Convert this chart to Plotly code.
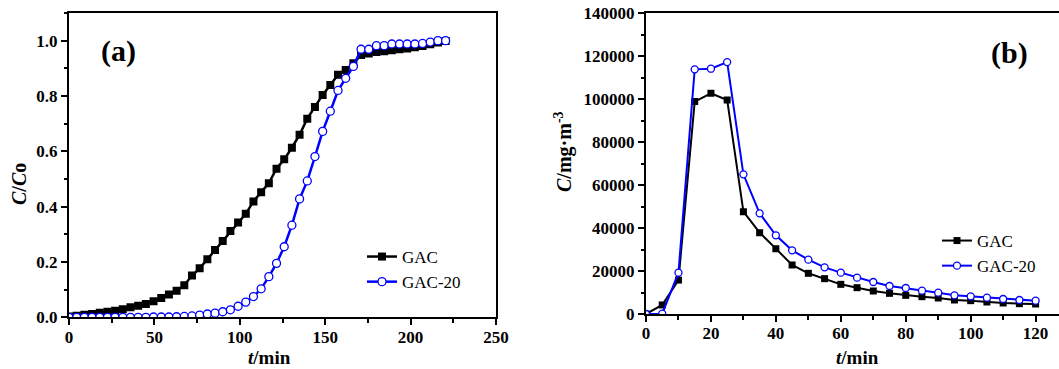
import plotly.graph_objects as go

# ---------------- data: panel (a) breakthrough curves ----------------
t_a = [0, 4.5, 9, 13.5, 18, 22.5, 27, 31.5, 36, 40.5, 45, 49.5, 54, 58.5, 63, 67.5,
       72, 76.5, 81, 85.5, 90, 94.5, 99, 103.5, 108, 112.5, 117, 121.5, 126, 130.5,
       135, 139.5, 144, 148.5, 153, 157.5, 162, 166.5, 171, 175.5, 180, 184.5, 189,
       193.5, 198, 202.5, 207, 211.5, 216, 220.5]
gac_a = [0.003, 0.006, 0.009, 0.012, 0.016, 0.020, 0.024, 0.029, 0.036, 0.042,
         0.048, 0.058, 0.070, 0.082, 0.096, 0.116, 0.151, 0.177, 0.210, 0.243,
         0.276, 0.312, 0.343, 0.374, 0.419, 0.452, 0.485, 0.537, 0.571, 0.613,
         0.660, 0.718, 0.760, 0.804, 0.840, 0.877, 0.894, 0.918, 0.948, 0.954,
         0.959, 0.962, 0.965, 0.969, 0.972, 0.976, 0.981, 0.987, 0.993, 0.999]
gac20_a = [0.0, 0.0, 0.0, 0.0, 0.0, 0.0, 0.0, 0.0, 0.0, 0.0,
           0.0, 0.001, 0.001, 0.001, 0.002, 0.003, 0.005, 0.008, 0.012, 0.015,
           0.020, 0.027, 0.040, 0.055, 0.075, 0.103, 0.147, 0.195, 0.255, 0.333,
           0.428, 0.493, 0.581, 0.672, 0.745, 0.820, 0.864, 0.907, 0.969, 0.969,
           0.982, 0.982, 0.988, 0.988, 0.988, 0.988, 0.990, 0.995, 1.0, 1.0]

# ---------------- data: panel (b) concentration ----------------
t_b = [0, 5, 10, 15, 20, 25, 30, 35, 40, 45, 50, 55, 60, 65, 70, 75, 80, 85, 90,
       95, 100, 105, 110, 115, 120]
gac_b = [0, 4200, 15800, 98900, 102750, 99650, 47650, 37870, 30420, 22820, 18940,
         16450, 13810, 12260, 10710, 9620, 8690, 8070, 7450, 6520, 6210, 5590,
         5120, 4810, 4660]
gac20_b = [0, 150, 19250, 113900, 114200, 117300, 65030, 46870, 36630, 29650, 25300,
           21730, 19250, 16920, 14900, 13040, 12110, 10870, 9930, 8690, 8230, 7610,
           6980, 6520, 6210]

names = ["GAC", "GAC-20"]

FONT = "Liberation Serif"
BLUE = "#0000ff"
W, H = 1059, 369

fig = go.Figure()

fig.add_trace(go.Scatter(x=t_a, y=gac_a, name=names[0], mode="lines+markers",
                         line=dict(color="black", width=2.5),
                         marker=dict(symbol="square", size=8, color="black"),
                         xaxis="x", yaxis="y", legend="legend"))
fig.add_trace(go.Scatter(x=t_a, y=gac20_a, name=names[1], mode="lines+markers",
                         line=dict(color=BLUE, width=2.5),
                         marker=dict(symbol="circle", size=8, color="white",
                                     line=dict(color=BLUE, width=1.3)),
                         xaxis="x", yaxis="y", legend="legend"))

fig.add_trace(go.Scatter(x=t_b, y=gac_b, name=names[0], mode="lines+markers",
                         line=dict(color="black", width=2),
                         marker=dict(symbol="square", size=7, color="black"),
                         xaxis="x2", yaxis="y2", legend="legend2"))
fig.add_trace(go.Scatter(x=t_b, y=gac20_b, name=names[1], mode="lines+markers",
                         line=dict(color=BLUE, width=2),
                         marker=dict(symbol="circle", size=7, color="white",
                                     line=dict(color=BLUE, width=1.3)),
                         xaxis="x2", yaxis="y2", legend="legend2"))

tickfont = dict(family=FONT, size=17, color="black", weight="bold")
common = dict(showgrid=False, zeroline=False, showline=True, linecolor="black",
              linewidth=2, ticks="outside", ticklen=6, tickwidth=1.5,
              tickcolor="black", tickfont=tickfont, automargin=False)

legfont = dict(family=FONT, size=17, color="black")

fig.update_layout(
    width=W, height=H,
    margin=dict(l=0, r=0, t=0, b=0, autoexpand=False),
    paper_bgcolor="white", plot_bgcolor="white",
    font=dict(family=FONT, color="black"),
    xaxis=dict(domain=[69/W, 496/W], range=[0, 250], tickvals=[0, 50, 100, 150, 200, 250],
               mirror=True, anchor="y", ticklabelstandoff=-3,
               minor=dict(dtick=25, ticklen=3.5, ticks="outside", tickcolor="black"),
               **common),
    yaxis=dict(domain=[1 - 317.3/H, 1 - 13/H], range=[0, 1.1],
               tickvals=[0, 0.2, 0.4, 0.6, 0.8, 1.0],
               tickformat=".1f", mirror=True, anchor="x",
               minor=dict(dtick=0.1, ticklen=3.5, ticks="outside", tickcolor="black"),
               **common),
    xaxis2=dict(domain=[646/W, 1.0], range=[0, 127.2], tickvals=[0, 20, 40, 60, 80, 100, 120],
                mirror=True, anchor="y2", ticklabelstandoff=-3,
                minor=dict(dtick=10, ticklen=3.5, ticks="outside", tickcolor="black"),
                **common),
    yaxis2=dict(domain=[1 - 314/H, 1 - 13.3/H], range=[0, 140000],
                tickvals=[0, 20000, 40000, 60000, 80000, 100000, 120000, 140000],
                tickformat="d", anchor="x2",
                minor=dict(dtick=10000, ticklen=3.5, ticks="outside", tickcolor="black"),
                **common),
    legend=dict(xref="container", yref="container", x=362/W, y=1 - 239/H,
                xanchor="left", yanchor="top",
                bgcolor="rgba(0,0,0,0)", font=legfont, tracegroupgap=0),
    legend2=dict(xref="container", yref="container", x=937/W, y=1 - 223/H,
                 xanchor="left", yanchor="top",
                 bgcolor="rgba(0,0,0,0)", font=legfont, tracegroupgap=0),
    showlegend=True,
)

ann = [
    dict(text="<b>(a)</b>", x=118/W, y=1 - 51/H, font=dict(size=30)),
    dict(text="<b>(b)</b>", x=1009/W, y=1 - 53/H, font=dict(size=30)),
    dict(text="<b><i>t</i>/min</b>", x=269/W, y=0, yanchor="bottom", font=dict(size=19)),
    dict(text="<b><i>t</i>/min</b>", x=857/W, y=0, yanchor="bottom", font=dict(size=19)),
    dict(text="<b><i>C</i>/<i>C</i>o</b>", x=19/W, y=1 - 184/H, textangle=-90,
         font=dict(size=20)),
    dict(text="<b><i>C</i>/mg·m<sup>-3</sup></b>", x=563/W, y=1 - 152/H, textangle=-90,
         font=dict(size=20)),
]
for a in ann:
    a.setdefault("yanchor", "middle")
    a.update(xref="paper", yref="paper", showarrow=False, xanchor="center", borderpad=0)
    a["font"].update(family=FONT, color="black")
fig.update_layout(annotations=ann)

fig.write_html("out.html")
